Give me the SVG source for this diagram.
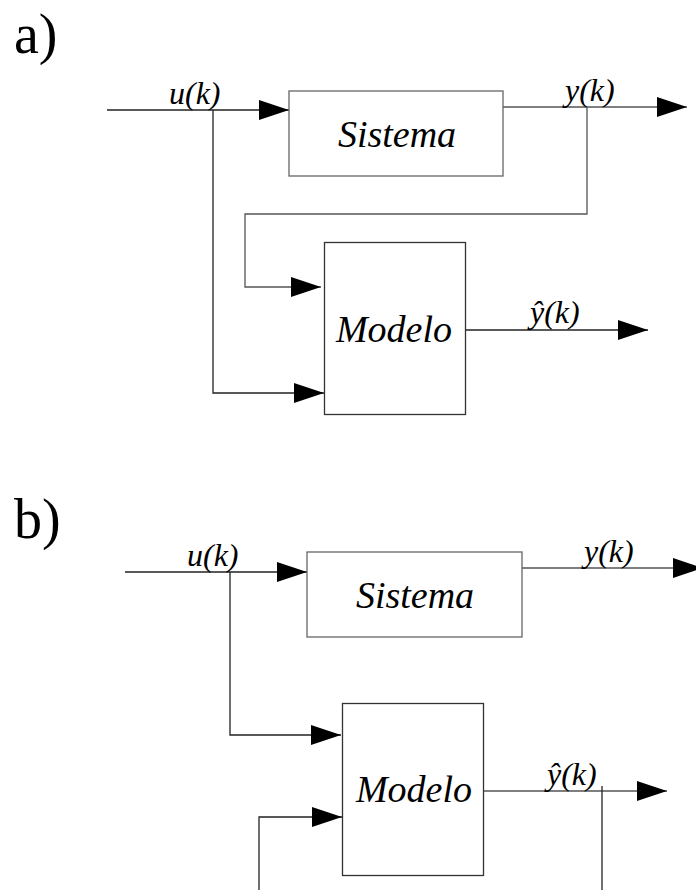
<svg xmlns="http://www.w3.org/2000/svg" width="696" height="890" viewBox="0 0 696 890">
<style>
  .box { fill: #fff; stroke: #333; stroke-width: 1.3; }
  .boxg { fill: #fff; stroke: #666; stroke-width: 1.3; }
  .ln { fill: none; stroke: #222; stroke-width: 1.3; }
  .lng { fill: none; stroke: #555; stroke-width: 1.3; }
  text { font-family: 'Liberation Serif', 'Times New Roman', serif; fill: #000; }
  .blk { font-style: italic; font-size: 38px; text-anchor: middle; }
  .lbl { font-style: italic; font-size: 32px; }
  .panel { font-size: 56px; }
</style>
<defs>
  <marker id="ah" markerUnits="userSpaceOnUse" markerWidth="31" markerHeight="21" refX="30" refY="10" orient="auto">
    <path d="M0,0 L30,10 L0,20 z" fill="#000"/>
  </marker>
</defs>

<g id="labels">
  <text class="panel" x="14" y="53">a)</text>
  <text class="panel" x="14" y="538">b)</text>
</g>

<g id="connectors">
  <!-- panel a -->
  <path class="ln" d="M107,110 H289" marker-end="url(#ah)"/>
  <path class="ln" d="M213,110 V393 H324" marker-end="url(#ah)"/>
  <path class="lng" d="M503,107 H687" marker-end="url(#ah)"/>
  <path class="lng" d="M587,107 V214 H245 V287 H321" marker-end="url(#ah)"/>
  <path class="ln" d="M466,330 H648" marker-end="url(#ah)"/>
  <!-- panel b -->
  <path class="ln" d="M125,572 H307" marker-end="url(#ah)"/>
  <path class="ln" d="M230,572 V735 H341" marker-end="url(#ah)"/>
  <path class="lng" d="M522,568 H703" marker-end="url(#ah)"/>
  <path class="lng" d="M484,791 H667" marker-end="url(#ah)"/>
  <path class="ln" d="M602,786 V890"/>
  <path class="ln" d="M259,890 V817 H342" marker-end="url(#ah)"/>
  <!-- signal labels -->
  <text class="lbl" x="169" y="104">u(k)</text>
  <text class="lbl" x="565" y="101">y(k)</text>
  <text class="lbl" x="530" y="323">&#x177;(k)</text>
  <text class="lbl" x="187" y="566">u(k)</text>
  <text class="lbl" x="584" y="562">y(k)</text>
  <text class="lbl" x="547" y="785">&#x177;(k)</text>
</g>

<g id="sistema-a">
  <rect class="boxg" x="289" y="91" width="214" height="85"/>
  <text class="blk" x="397" y="147">Sistema</text>
</g>
<g id="modelo-a">
  <rect class="box" x="324.5" y="242.5" width="141" height="172"/>
  <text class="blk" x="394" y="342">Modelo</text>
</g>
<g id="sistema-b">
  <rect class="boxg" x="307" y="552" width="215" height="85"/>
  <text class="blk" x="415" y="608">Sistema</text>
</g>
<g id="modelo-b">
  <rect class="box" x="342.5" y="703.5" width="141" height="172"/>
  <text class="blk" x="414" y="802">Modelo</text>
</g>
</svg>
